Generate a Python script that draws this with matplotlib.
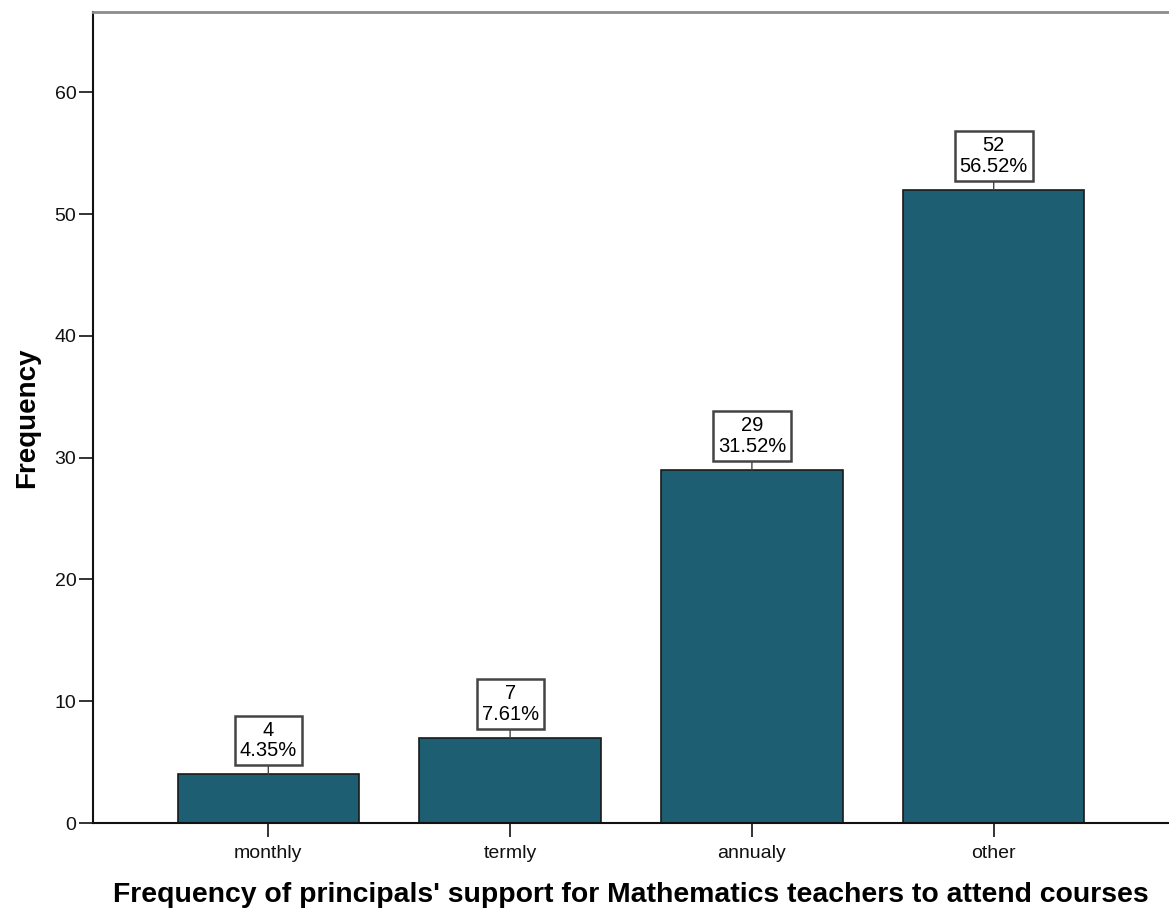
import matplotlib
matplotlib.use("Agg")
import matplotlib.pyplot as plt

categories = ["monthly", "termly", "annualy", "other"]
counts = [4, 7, 29, 52]
percents = [4.35, 7.61, 31.52, 56.52]

plt.rcParams["font.family"] = ["Liberation Sans", "DejaVu Sans"]

fig = plt.figure(figsize=(11.69, 9.10), dpi=100)
ax = fig.add_axes([93 / 1169, 87 / 910, 1 - 93 / 1169, (823 - 12) / 910])

x = list(range(len(categories)))
ax.bar(x, counts, width=0.75, color="#1d5e73", edgecolor="#1a1a1a",
       linewidth=1.2, zorder=2)

ax.set_xlim(-0.725, len(categories) - 0.275)
ax.set_ylim(0, 66.6)
ax.set_yticks([0, 10, 20, 30, 40, 50, 60])
ax.set_xticks(x)
ax.set_xticklabels(categories)
ax.tick_params(axis="both", direction="out", length=10, width=1.2,
               labelsize=14, colors="#111111", pad=2)
ax.tick_params(axis="x", pad=6)

ax.spines["right"].set_visible(False)
ax.spines["top"].set_color("#8c8c8c")
ax.spines["top"].set_linewidth(2)
for s in ("left", "bottom"):
    ax.spines[s].set_linewidth(1.5)
    ax.spines[s].set_color("#111111")

ax.set_ylabel("Frequency", fontsize=20, fontweight="bold", labelpad=10)
ax.set_xlabel("Frequency of principals' support for Mathematics teachers to attend courses",
              fontsize=20.4, fontweight="bold", labelpad=14)

for xi, c, p in zip(x, counts, percents):
    ax.annotate(f"{c}\n{p:.2f}%", xy=(xi, c), xytext=(0, 34),
                textcoords="offset pixels", ha="center", va="center",
                fontsize=14.5, linespacing=1.1,
                bbox=dict(boxstyle="square,pad=0.25", fc="white",
                          ec="#444444", lw=1.8),
                arrowprops=dict(arrowstyle="-", color="#444444", lw=1,
                                shrinkA=0, shrinkB=0),
                zorder=3)

fig.savefig("out.png", dpi=100)
